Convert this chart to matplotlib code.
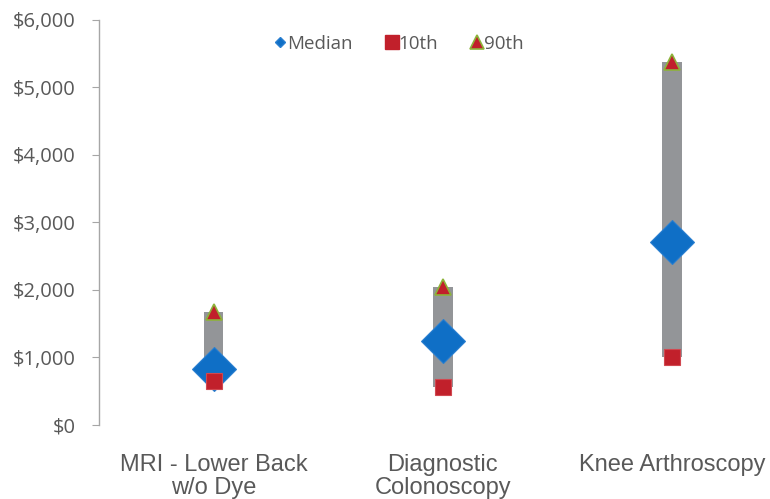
import numpy as np
import matplotlib.pyplot as plt
from matplotlib.lines import Line2D
from matplotlib.ticker import FuncFormatter

plt.rcParams['font.family'] = ['Open Sans', 'DejaVu Sans']

categories = ["MRI - Lower Back\nw/o Dye", "Diagnostic\nColonoscopy", "Knee Arthroscopy"]
median = [830, 1240, 2710]
p10 = [645, 560, 1000]
p90 = [1670, 2040, 5370]

gray = "#939598"
blue = "#0F6FC6"
red = "#C1202B"
green = "#8DB33A"
text_col = "#595959"

fig = plt.figure(figsize=(7.7, 4.99), dpi=100)
ax = fig.add_axes([0.1286, 0.1483, 0.893, 0.8117])

x = np.arange(len(categories))
lo = np.array(p10)
hi = np.array(p90)
ax.bar(x, hi - lo, bottom=lo, width=0.085, color=gray, zorder=1)

ax.plot(x, median, linestyle="none", marker="D", markersize=21.9,
        color=blue, markeredgecolor="#2a7fd0", markeredgewidth=0.8, zorder=2)
ax.plot(x, p10, linestyle="none", marker="s", markersize=12.2,
        color=red, markeredgecolor="#d04850", markeredgewidth=0.8, zorder=3)
ax.plot(x, p90, linestyle="none", marker="^", markersize=12,
        color=red, markeredgecolor=green, markeredgewidth=1.2, zorder=3)

ax.set_xlim(-0.5, 2.5)
ax.set_ylim(0, 6000)
ax.set_yticks(np.arange(0, 6001, 1000))
ax.yaxis.set_major_formatter(FuncFormatter(lambda v, p: "${:,.0f}".format(v)))
ax.set_xticks(x)
ax.set_xticklabels(categories, fontsize=17, color=text_col, linespacing=1.05,
                   family=["Liberation Sans", "DejaVu Sans"])

for s in ["top", "right", "bottom"]:
    ax.spines[s].set_visible(False)
ax.spines["left"].set_color("#a6a6a6")
ax.spines["left"].set_linewidth(1)
ax.tick_params(axis="y", length=5, color="#a6a6a6", labelsize=14.5, labelcolor=text_col, pad=12)
ax.tick_params(axis="x", length=0, pad=21)

handles = [
    Line2D([], [], linestyle="none", marker="D", markersize=5, color=blue, markeredgecolor="#2a7fd0"),
    Line2D([], [], linestyle="none", marker="s", markersize=10, color=red),
    Line2D([], [], linestyle="none", marker="^", markersize=9.5, color=red, markeredgecolor=green, markeredgewidth=1.2),
]
leg = ax.legend(handles, ["Median", "10th", "90th"], loc="center",
                bbox_to_anchor=(0.437, 0.941), ncol=3, frameon=False,
                fontsize=13.5, handletextpad=0.12, columnspacing=1.85, handlelength=0.5,
                borderpad=0, borderaxespad=0)
for t in leg.get_texts():
    t.set_color(text_col)

fig.savefig("out.png", dpi=100)
